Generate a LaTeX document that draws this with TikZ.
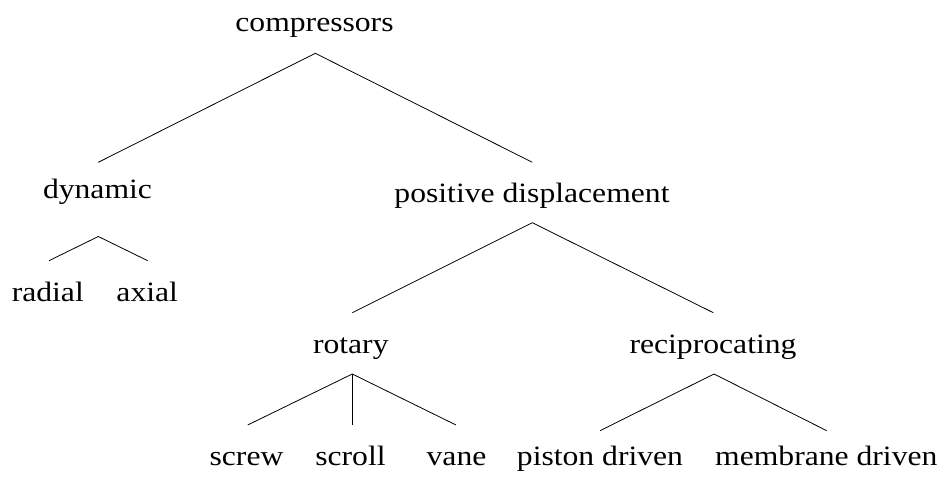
\documentclass[tikz,border=0pt]{standalone}
\usepackage{fontspec}
\setmainfont{Liberation Serif}
\newcommand{\wide}[1]{\scalebox{1.13}[1]{#1}}
\begin{document}
\begin{tikzpicture}[x=0.75pt,y=-0.75pt,
  lbl/.style={anchor=base,inner sep=0pt,font=\fontsize{21}{25}\selectfont},
  br/.style={line width=0.6pt}]
\useasboundingbox (0,0) rectangle (940,477);
% labels
\node[lbl] (cmp) at (314.5,32) {\wide{compressors}};
\node[lbl] (dyn) at (97.5,198.3) {\wide{dynamic}};
\node[lbl] (pd) at (532,203) {\wide{positive displacement}};
\node[lbl] (rad) at (47.8,301.5) {\wide{radial}};
\node[lbl] (axi) at (147.2,301.5) {\wide{axial}};
\node[lbl] (rot) at (350.8,354) {\wide{rotary}};
\node[lbl] (rec) at (713,354) {\wide{reciprocating}};
\node[lbl] (scw) at (246.5,466) {\wide{screw}};
\node[lbl] (scl) at (350.5,466) {\wide{scroll}};
\node[lbl] (van) at (456.5,466) {\wide{vane}};
\node[lbl] (pis) at (600,465) {\wide{piston driven}};
\node[lbl] (mem) at (826.3,465) {\wide{membrane driven}};
% connection points
\coordinate (cmp-b) at (315.3,53.3);
\coordinate (dyn-t) at (98.3,162.3);
\coordinate (pd-t) at (532.3,162.3);
\coordinate (dyn-b) at (98.3,236.5);
\coordinate (rad-t) at (49,260.7);
\coordinate (axi-t) at (147.7,260.7);
\coordinate (pd-b) at (532.3,222.7);
\coordinate (rot-t) at (352.3,312.7);
\coordinate (rec-t) at (713.3,312.7);
\coordinate (rot-b) at (352.3,374);
\coordinate (scw-t) at (247.7,425);
\coordinate (scl-t) at (352.3,425);
\coordinate (van-t) at (456,425);
\coordinate (rec-b) at (714,374);
\coordinate (pis-t) at (600,430.7);
\coordinate (mem-t) at (826.7,430.7);
% branches
\draw[br] (dyn-t) -- (cmp-b) -- (pd-t);
\draw[br] (rad-t) -- (dyn-b) -- (axi-t);
\draw[br] (rot-t) -- (pd-b) -- (rec-t);
\draw[br] (scw-t) -- (rot-b) -- (van-t);
\draw[br] (rot-b) -- (scl-t);
\draw[br] (pis-t) -- (rec-b) -- (mem-t);
\end{tikzpicture}
\end{document}
